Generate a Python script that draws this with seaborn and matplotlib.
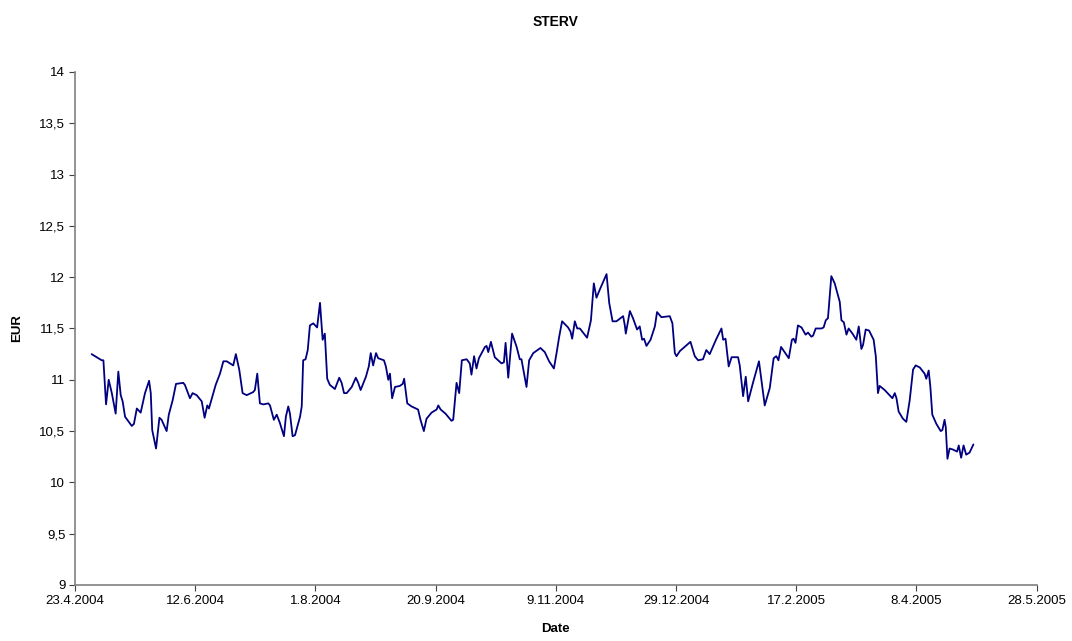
import numpy as np
import pandas as pd
import matplotlib
matplotlib.use("Agg")
import matplotlib.pyplot as plt
import matplotlib.dates as mdates
from matplotlib.ticker import FuncFormatter
import seaborn as sns

# days since 23.4.2004 and closing price (EUR)
days = [6.9, 11.1, 11.8, 12.9, 14.0, 15.3, 16.9, 18.0, 19.0, 19.8, 20.8, 23.6, 24.5, 25.7, 27.3,
        29.1, 30.8, 31.5, 32.1, 33.7, 35.1, 36.0, 38.1, 39.0, 40.6, 42.0, 45.0, 45.7, 47.8, 48.9,
        50.6, 52.7, 53.9, 55.0, 55.7, 58.5, 60.3, 61.7, 63.1, 65.8, 66.9, 68.3, 69.7, 71.4, 74.1,
        74.8, 75.8, 76.9, 78.3, 80.4, 81.1, 82.7, 83.9, 85.2, 86.9, 87.7, 88.7, 89.4, 90.5, 91.5,
        93.6, 94.3, 94.9, 95.9, 96.8, 97.7, 99.1, 100.7, 101.9, 103.0, 103.9, 104.9, 106.0, 108.1,
        109.9, 110.9, 111.9, 113.0, 115.1, 116.8, 117.8, 118.8, 121.0, 122.2, 123.0, 124.0, 125.2,
        126.1, 128.5, 129.3, 130.3, 131.0, 131.9, 133.1, 135.1, 136.3, 136.9, 138.2, 140.0, 142.7,
        143.7, 145.1, 146.2, 148.3, 150.4, 151.1, 152.1, 154.1, 156.6, 157.3, 158.7, 159.8, 160.9,
        162.9, 164.2, 164.9, 166.0, 167.0, 168.0, 170.5, 171.2, 171.9, 173.0, 174.6, 177.4, 178.4,
        179.1, 180.2, 181.8, 183.7, 185.0, 185.7, 187.8, 188.9, 190.6, 193.6, 195.4, 197.2, 199.2,
        200.3, 201.4, 202.6, 205.1, 206.1, 206.8, 207.9, 208.9, 210.0, 213.0, 214.6, 215.8, 216.9,
        218.3, 221.1, 222.2, 223.6, 225.2, 228.0, 228.7, 229.1, 230.8, 232.1, 233.8, 234.9, 235.9,
        236.7, 237.7, 239.4, 241.2, 242.1, 243.9, 247.4, 248.5, 249.5, 250.2, 251.6, 256.0, 257.8,
        259.2, 261.2, 262.6, 264.0, 266.8, 268.9, 269.6, 270.6, 271.9, 273.1, 275.8, 276.5, 277.9,
        279.0, 280.0, 282.0, 284.5, 285.5, 286.9, 289.0, 290.6, 291.7, 292.6, 293.7, 296.9, 298.2,
        298.9, 299.7, 300.7, 302.2, 303.9, 304.9, 306.3, 307.0, 308.1, 310.5, 311.4, 312.3, 313.2,
        314.6, 316.0, 318.1, 318.8, 319.8, 320.9, 321.8, 323.4, 325.0, 326.0, 327.1, 327.8, 328.9,
        330.3, 332.2, 333.1, 334.0, 334.7, 336.8, 340.0, 341.0, 341.7, 342.6, 344.4, 345.8, 347.2,
        348.6, 349.7, 351.4, 353.4, 354.1, 355.1, 355.8, 356.6, 358.3, 360.1, 360.8, 361.7, 362.2,
        362.9, 363.8, 365.2, 366.9, 367.6, 368.6, 369.6, 370.7, 372.1, 373.7]
eur = [11.25, 11.19, 11.19, 10.76, 11.00, 10.87, 10.67, 11.08, 10.85, 10.79, 10.64, 10.55, 10.57, 10.72, 10.68,
       10.87, 10.99, 10.87, 10.51, 10.33, 10.63, 10.61, 10.50, 10.66, 10.80, 10.96, 10.97, 10.95, 10.82, 10.87,
       10.85, 10.79, 10.63, 10.75, 10.72, 10.95, 11.06, 11.18, 11.18, 11.14, 11.25, 11.10, 10.87, 10.85, 10.88,
       10.90, 11.06, 10.77, 10.76, 10.77, 10.75, 10.61, 10.66, 10.58, 10.45, 10.64, 10.74, 10.67, 10.45, 10.46,
       10.64, 10.74, 11.19, 11.20, 11.29, 11.53, 11.55, 11.51, 11.75, 11.39, 11.45, 11.01, 10.95, 10.91,
       11.02, 10.97, 10.87, 10.87, 10.93, 11.02, 10.97, 10.90, 11.03, 11.13, 11.26, 11.14, 11.26,
       11.21, 11.19, 11.13, 11.00, 11.06, 10.82, 10.93, 10.94, 10.96, 11.01, 10.77, 10.74, 10.71,
       10.61, 10.50, 10.62, 10.68, 10.71, 10.75, 10.71, 10.67, 10.60, 10.61, 10.97, 10.87, 11.19,
       11.20, 11.16, 11.05, 11.23, 11.11, 11.21, 11.32, 11.33, 11.27, 11.37, 11.22, 11.16, 11.17,
       11.36, 11.02, 11.45, 11.32, 11.20, 11.20, 10.93, 11.19, 11.26, 11.31, 11.27, 11.18, 11.11,
       11.26, 11.42, 11.57, 11.51, 11.47, 11.40, 11.57, 11.50, 11.50, 11.41, 11.58, 11.94, 11.80,
       11.88, 12.03, 11.75, 11.57, 11.57, 11.62, 11.53, 11.45, 11.67, 11.60, 11.49, 11.52, 11.39,
       11.40, 11.33, 11.39, 11.52, 11.66, 11.61, 11.62, 11.55, 11.26, 11.23, 11.28, 11.37, 11.23,
       11.19, 11.20, 11.29, 11.25, 11.40, 11.50, 11.39, 11.40, 11.13, 11.22, 11.22, 11.14, 10.84,
       11.03, 10.79, 10.97, 11.18, 11.00, 10.75, 10.92, 11.21, 11.23, 11.19, 11.32, 11.21, 11.39,
       11.40, 11.36, 11.53, 11.51, 11.44, 11.46, 11.42, 11.43, 11.50, 11.50, 11.51, 11.58, 11.60,
       12.01, 11.94, 11.76, 11.58, 11.56, 11.44, 11.50, 11.45, 11.39, 11.52, 11.30, 11.34, 11.49,
       11.48, 11.39, 11.23, 10.87, 10.94, 10.90, 10.82, 10.87, 10.82, 10.69, 10.62, 10.59, 10.80,
       11.10, 11.14, 11.12, 11.06, 11.01, 11.09, 10.93, 10.66, 10.57, 10.50, 10.51, 10.61, 10.54,
       10.23, 10.33, 10.32, 10.30, 10.36, 10.24, 10.36, 10.27, 10.29, 10.37]

start = pd.Timestamp("2004-04-23")
xticks = [start + pd.Timedelta(days=50 * k) for k in range(9)]
yticks = np.arange(9, 14.01, 0.5)

df = pd.DataFrame({"Date": start + pd.to_timedelta(days, unit="D"), "EUR": eur})

sns.set_theme(style="white")
plt.rcParams["font.family"] = ["Liberation Sans", "DejaVu Sans"]
plt.rcParams["text.color"] = "black"
plt.rcParams["axes.labelcolor"] = "black"
plt.rcParams["xtick.color"] = "black"
plt.rcParams["ytick.color"] = "black"

fig = plt.figure(figsize=(10.72, 6.41), dpi=100, facecolor="white")
ax = fig.add_axes([0.07, 0.0874, 0.897, 0.8003])
sns.lineplot(data=df, x="Date", y="EUR", ax=ax, color="#000080", linewidth=1.3,
             estimator=None, sort=False)

ax.set_xlim(xticks[0], xticks[-1])
ax.set_ylim(9, 14)
ax.set_xticks(xticks)
ax.set_yticks(yticks)
ax.xaxis.set_major_formatter(FuncFormatter(
    lambda v, p: (lambda d: f"{d.day}.{d.month}.{d.year}")(mdates.num2date(v))))
ax.yaxis.set_major_formatter(FuncFormatter(lambda v, p: f"{v:g}".replace(".", ",")))

for s in ["top", "right"]:
    ax.spines[s].set_visible(False)
for s in ["left", "bottom"]:
    ax.spines[s].set_color("#808080")
    ax.spines[s].set_linewidth(1.2)
ax.tick_params(axis="both", which="major", labelsize=9.5, length=4, width=0.8,
               color="#404040", labelcolor="black", direction="out",
               left=True, bottom=True, pad=3)

ax.set_title("STERV", fontsize=10, fontweight="bold", pad=33, color="black")
ax.set_xlabel("Date", fontsize=9.5, fontweight="bold", labelpad=12, color="black")
ax.set_ylabel("EUR", fontsize=9.5, fontweight="bold", labelpad=12, color="black")

fig.savefig("out.png", dpi=100, facecolor="white")
